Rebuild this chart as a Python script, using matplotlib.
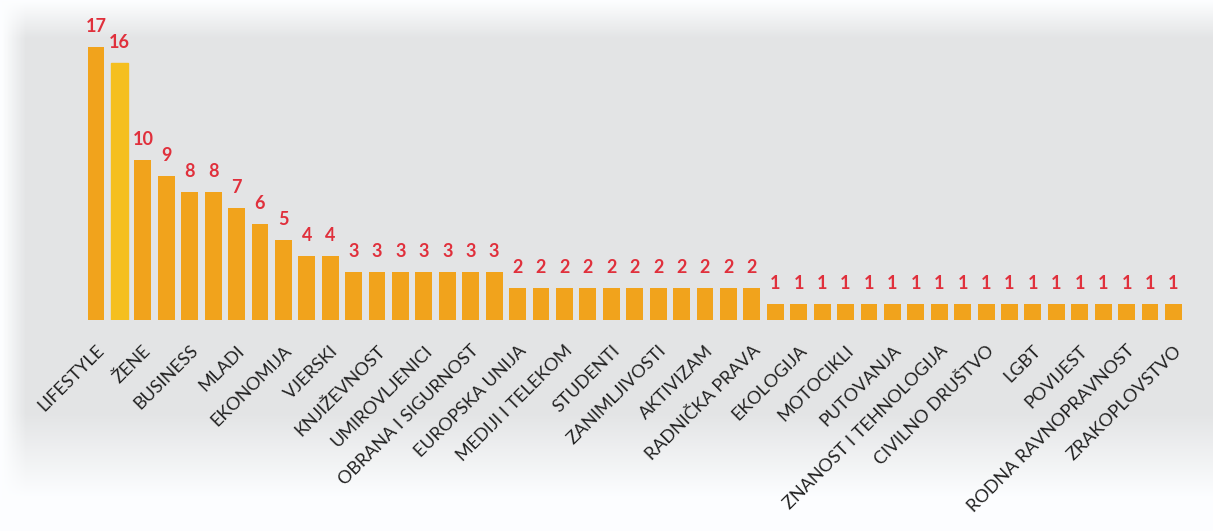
import numpy as np
import matplotlib.pyplot as plt

plt.rcParams['font.family'] = ['Lato', 'DejaVu Sans']

values = [17, 16, 10, 9, 8, 8, 7, 6, 5, 4, 4,
          3, 3, 3, 3, 3, 3, 3,
          2, 2, 2, 2, 2, 2, 2, 2, 2, 2, 2,
          1, 1, 1, 1, 1, 1, 1, 1, 1, 1, 1, 1, 1, 1, 1, 1, 1, 1]
labels = ["LIFESTYLE", "ŽENE", "BUSINESS", "MLADI", "EKONOMIJA", "VJERSKI",
          "KNJIŽEVNOST", "UMIROVLJENICI", "OBRANA I SIGURNOST", "EUROPSKA UNIJA",
          "MEDIJI I TELEKOM", "STUDENTI", "ZANIMLJIVOSTI", "AKTIVIZAM",
          "RADNIČKA PRAVA", "EKOLOGIJA", "MOTOCIKLI", "PUTOVANJA",
          "ZNANOST I TEHNOLOGIJA", "CIVILNO DRUŠTVO", "LGBT", "POVIJEST",
          "RODNA RAVNOPRAVNOST", "ZRAKOPLOVSTVO"]

x = np.arange(len(values))
label_pos = x[::2]

fig = plt.figure(figsize=(12.13, 5.31), dpi=100)

# soft grey background, whiter at the top and fading to white at the bottom
bg = fig.add_axes([0, 0, 1, 1], zorder=-1)
rows = np.linspace(0, 1, 200)
shade = np.where(rows < 0.07, 1 - rows / 0.07 * 0.1,
                 np.where(rows < 0.78, 0.9, 0.9 + (rows - 0.78) / 0.16 * 0.1))
shade = np.clip(shade, 0.9, 1.0)
cols = np.linspace(0, 1, 300)
edge = np.clip(cols / 0.02, 0, 1)
shade = 1 - (1 - shade[:, None]) * edge[None, :]
bg.imshow(np.dstack([shade * 0.99, shade * 0.995, shade * 1.0]), aspect='auto',
          extent=[0, 1, 0, 1], origin='upper')
bg.axis('off')

ax = fig.add_axes([0.0656, 0.397, 0.9134, 0.5747])
ax.patch.set_alpha(0)
bars = ax.bar(x, values, width=0.72, color="#f1a31c", zorder=2)
bars[1].set_color("#f5bf1e")

for xi, v in zip(x, values):
    ax.text(xi, v + 0.75, str(v), ha='center', va='bottom', color="#e0303c",
            fontsize=13, fontweight='bold')

ax.set_xlim(-0.7, 46.6)
ax.set_ylim(0, 19)
ax.set_xticks(label_pos)
ax.set_xticklabels(labels, rotation=45, ha='right', rotation_mode='anchor',
                   fontsize=13, color="#222222")
ax.tick_params(axis='x', length=0, pad=16)
ax.set_yticks([])
for s in ax.spines.values():
    s.set_visible(False)

plt.savefig("out.png", dpi=100)
